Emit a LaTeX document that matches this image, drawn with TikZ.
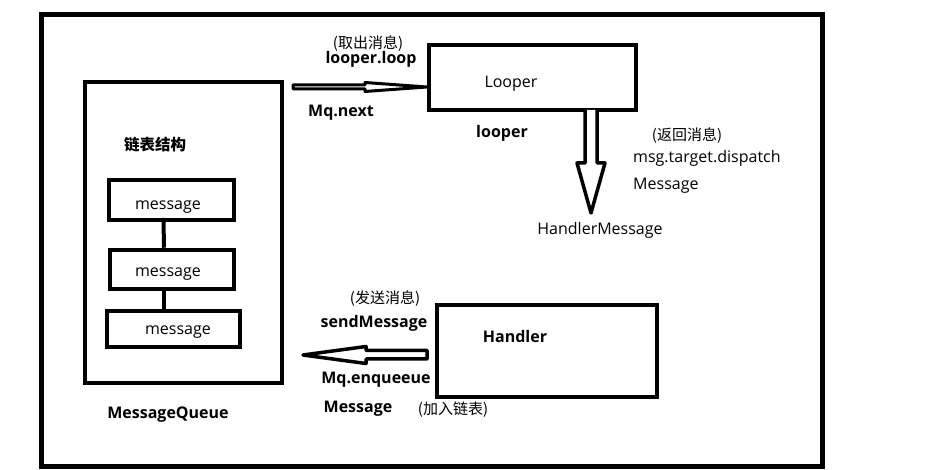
\documentclass[tikz,border=0pt]{standalone}
\usepackage{fontspec}
\setmainfont{Open Sans}
\newfontfamily\cjk{Noto Sans CJK SC}
\usetikzlibrary{calc}
\tikzset{
  box/.style={draw=black, line width=4.5pt, inner sep=0pt, fill=none},
  txt/.style={inner sep=0pt, yshift=-2.5pt, font=\fontsize{16}{19}\selectfont},
  btxt/.style={inner sep=0pt, yshift=-2.5pt, font=\fontsize{16}{19}\selectfont\bfseries},
  ctxt/.style={inner sep=0pt, yshift=-1pt, font=\fontsize{15}{18}\selectfont\cjk},
  hollow/.style={draw=black, line width=3.5pt, line join=round, fill=white},
  link/.style={draw=black, line width=4pt}
}
\begin{document}
\begin{tikzpicture}[x=1pt,y=-1pt]
\useasboundingbox (0,0) rectangle (930,470);
\draw[line width=5pt] (41,15) rectangle (822,467);
% boxes
\node[box, minimum width=197pt, minimum height=301pt] (mq) at (183.5,232.5) {};
\node[box, minimum width=207pt, minimum height=65pt] (looper) at (532.5,77.5) {};
\node[box, minimum width=220pt, minimum height=92pt] (handler) at (547,351) {};
\node[box, minimum width=125pt, minimum height=40pt] (m1) at (171.5,200) {};
\node[box, minimum width=124pt, minimum height=39pt] (m2) at (172,269.5) {};
\node[box, minimum width=133pt, minimum height=36pt] (m3) at (173.5,329) {};
% box texts
\node[txt] at (168,205) {message};
\node[txt] at (168,272) {message};
\node[txt] at (178,330) {message};
\node[txt] at (511,81) {Looper};
\node[btxt] at (515,334) {Handler};
\node[inner sep=0pt, font=\fontsize{15.5}{18}\selectfont\cjk\bfseries] at (155,145) {链表结构};
\node[btxt] at (168,412) {MessageQueue};
% links between messages
\draw[link] ([xshift=-8pt]m2.north) -- ([xshift=-8pt,yshift=2pt]m1.south);
\fill ([xshift=-8pt,yshift=2pt]m1.south) circle (2.6pt);
\draw[link] ([xshift=-9.5pt]m3.north) -- ([xshift=-8pt]m2.south);
% top hollow arrow (mq -> looper)
\coordinate (ta) at (looper.west |- 0,87);
\draw[hollow, line width=3pt] (293,85) -- (365,85) -- (365,82.5) -- (ta) -- (365,91.5) -- (365,89) -- (293,89) -- cycle;
% down hollow arrow (looper -> HandlerMessage)
\coordinate (da) at (591,110);
\draw[hollow] (585,110) -- (585,163) -- (577,163) -- (591,213) -- (605,163) -- (597,163) -- (597,110);
% bottom hollow arrow (handler -> mq)
\coordinate (ba) at (303,355);
\draw[hollow] (ba) -- (366,346.5) -- (366,350.5) -- (427,350.5) -- (427,359) -- (366,359) -- (366,363.5) -- cycle;
% labels
\node[ctxt] at (368,43) {(取出消息)};
\node[btxt] at (371,57) {looper.loop};
\node[btxt] at (341,110) {Mq.next};
\node[btxt] at (502,131) {looper};
\node[ctxt] at (687,135) {(返回消息)};
\node[txt, anchor=west] at (633,156) {msg.target.dispatch};
\node[txt, anchor=west] at (633,183) {Message};
\node[txt] at (600,228) {HandlerMessage};
\node[ctxt] at (385,298) {(发送消息)};
\node[btxt] at (374,321) {sendMessage};
\node[btxt] at (376,377) {Mq.enqueeue};
\node[btxt] at (358,406) {Message};
\node[ctxt] at (453,409) {(加入链表)};
\end{tikzpicture}
\end{document}
